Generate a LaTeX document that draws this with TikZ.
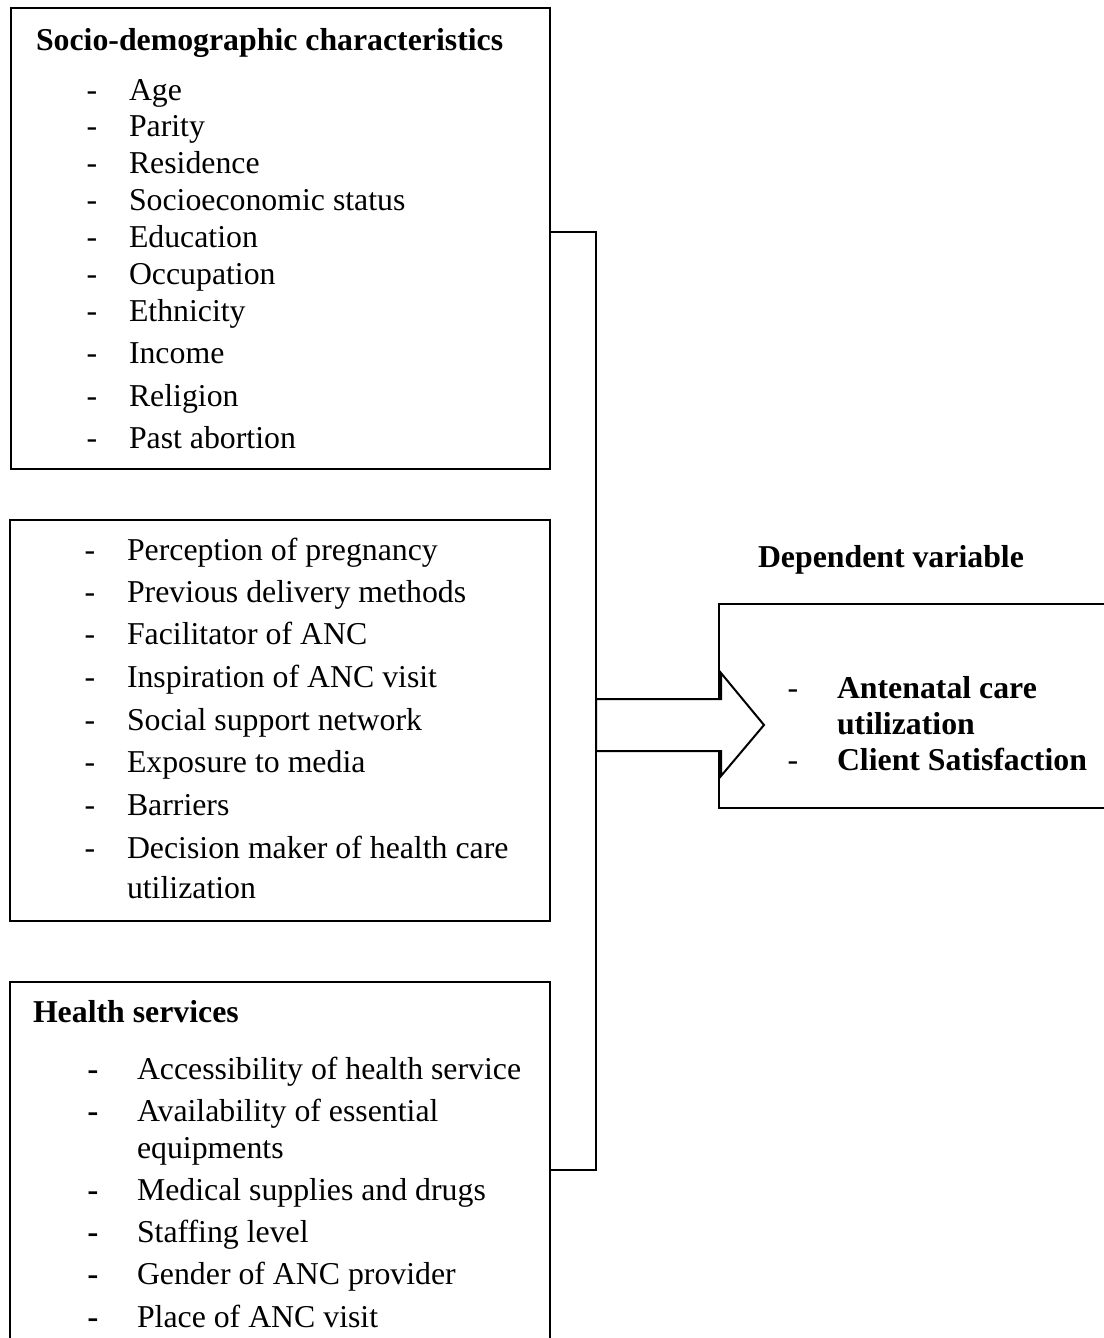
\documentclass[tikz,border=0pt]{standalone}
\usepackage{fontspec}
\setmainfont{Liberation Serif}
\newfontfamily\dashfont{Liberation Sans}
\begin{document}
\begin{tikzpicture}[x=0.5pt,y=-0.5pt,line width=1pt,
  txt/.style={anchor=base west,inner sep=0pt,font=\fontsize{15.9}{19}\selectfont},
  btxt/.style={txt,font=\fontsize{15.9}{19}\selectfont\bfseries},
  dsh/.style={anchor=base,inner sep=0pt,font=\fontsize{15.9}{19}\selectfont},
  dsh3/.style={anchor=base,inner sep=0pt,font=\fontsize{17.5}{19}\selectfont\dashfont},
  box/.style={draw,inner sep=0pt}]
\useasboundingbox (0,0) rectangle (1103,1338);
% boxes
\node[box,minimum width=269.5pt,minimum height=230.5pt] (b1) at (280.5,238.5) {};
\node[box,minimum width=270pt,minimum height=200.5pt] (b2) at (280,720.5) {};
\node[box,minimum width=270pt,minimum height=189pt] (b3) at (280,1171) {};
\node[box,minimum width=205.5pt,minimum height=102pt] (dep) at (924.5,706) {};
% box 1 text
\node[btxt] (t1) at (35,51) {Socio-demographic characteristics};
\foreach \y/\s [count=\i] in {101/Age,137/Parity,173/Residence,210/Socioeconomic status,247/Education,284/Occupation,321/Ethnicity,363/Income,406/Religion,448/Past abortion}{
  \node[dsh] (d1\i) at (92,\y) {-};
  \node[txt] (a\i) at (128,\y) {\s};
}
% box 2 text
\foreach \y/\s [count=\i] in {560/Perception of pregnancy,602/Previous delivery methods,644/Facilitator of ANC,687/Inspiration of ANC visit,730/Social support network,772/Exposure to media,815/Barriers,858/Decision maker of health care}{
  \node[dsh] (d2\i) at (90,\y) {-};
  \node[txt] (p\i) at (126,\y) {\s};
}
\node[txt] (p9) at (126,898) {utilization};
% box 3 text
\node[btxt] (t3) at (32,1022) {Health services};
\foreach \y/\s [count=\i] in {1079/Accessibility of health service,1121/Availability of essential,1200/Medical supplies and drugs,1242/Staffing level,1284/Gender of ANC provider,1327/Place of ANC visit}{
  \node[dsh3] (d3\i) at (93,\y+2) {-};
  \node[txt] (h\i) at (136,\y) {\s};
}
\node[txt] (h7) at (136,1158) {equipments};
% dependent
\node[btxt] (dv) at (757,567) {Dependent variable};
\node[dsh] (dd1) at (793,698) {-};
\node[btxt] (o1) at (836,698) {Antenatal care};
\node[btxt] (o2) at (836,734) {utilization};
\node[dsh] (dd2) at (793,770) {-};
\node[btxt] (o3) at (836,770) {Client Satisfaction};
% block arrow
\draw[fill=white,line join=miter] (596,699) -- (721,699) -- (721,673) -- (764,725) -- (721,776) -- (721,751) -- (596,751) -- cycle;
% connector
\coordinate (jA) at (596,232);
\coordinate (jB) at (596,1170);
\draw (b1.east |- jA) -- (jA) -- (jB) -- (b3.east |- jB);
\end{tikzpicture}
\end{document}
